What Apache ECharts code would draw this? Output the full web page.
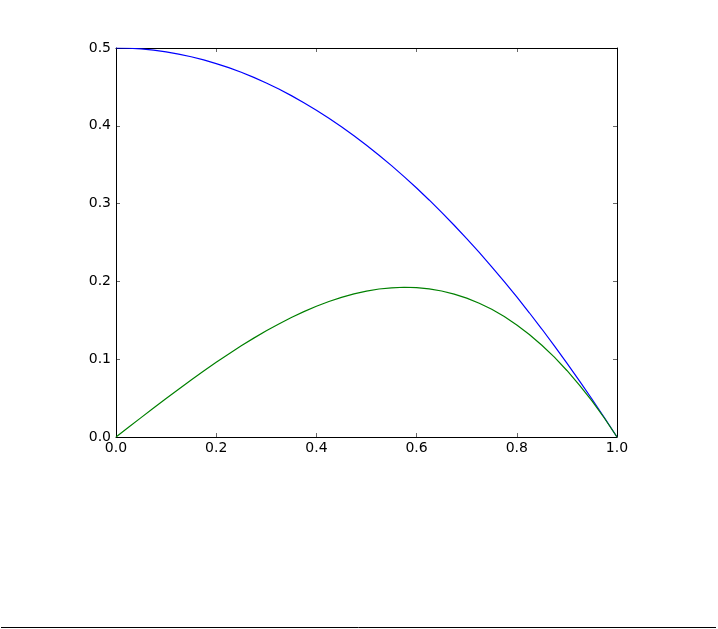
<!DOCTYPE html>
<html>
<head>
<meta charset="utf-8">
<script src="https://cdn.jsdelivr.net/npm/echarts@6/dist/echarts.min.js"></script>
<style>
html,body{margin:0;padding:0;background:#fff;}
#c{width:718px;height:629px;}
</style>
</head>
<body>
<div id="c"></div>
<script>
var xValues = [0, 0.025, 0.05, 0.075, 0.1, 0.125, 0.15, 0.175, 0.2, 0.225, 0.25, 0.275, 0.3, 0.325, 0.35, 0.375, 0.4, 0.425, 0.45, 0.475, 0.5, 0.525, 0.55, 0.575, 0.6, 0.625, 0.65, 0.675, 0.7, 0.725, 0.75, 0.775, 0.8, 0.825, 0.85, 0.875, 0.9, 0.925, 0.95, 0.975, 1.0];
var blueValues = [0.5, 0.4997, 0.4988, 0.4972, 0.495, 0.4922, 0.4888, 0.4847, 0.48, 0.4747, 0.4688, 0.4622, 0.455, 0.4472, 0.4388, 0.4297, 0.42, 0.4097, 0.3988, 0.3872, 0.375, 0.3622, 0.3488, 0.3347, 0.32, 0.3047, 0.2888, 0.2722, 0.255, 0.2372, 0.2188, 0.1997, 0.18, 0.1597, 0.1388, 0.1172, 0.095, 0.0722, 0.0488, 0.0247, 0];
var greenValues = [0, 0.0125, 0.0249, 0.0373, 0.0495, 0.0615, 0.0733, 0.0848, 0.096, 0.1068, 0.1172, 0.1271, 0.1365, 0.1453, 0.1536, 0.1611, 0.168, 0.1741, 0.1795, 0.1839, 0.1875, 0.1902, 0.1918, 0.1925, 0.192, 0.1904, 0.1877, 0.1837, 0.1785, 0.172, 0.1641, 0.1548, 0.144, 0.1318, 0.118, 0.1026, 0.0855, 0.0668, 0.0464, 0.0241, 0];
var xTickLabels = ['0.0', '0.2', '0.4', '0.6', '0.8', '1.0'];
var yTickLabels = ['0.0', '0.1', '0.2', '0.3', '0.4', '0.5'];

function pairs(xs, ys){ return xs.map(function(x,i){ return [x, ys[i]]; }); }

var chart = echarts.init(document.getElementById('c'), null, {renderer:'canvas'});
var font = 'DejaVu Sans';
var axisCommon = {
  axisLine:{show:true, onZero:false, lineStyle:{color:'#000', width:1}},
  axisTick:{show:true, inside:true, length:4, lineStyle:{color:'#000', width:0.6}},
  splitLine:{show:false}
};
chart.setOption({
  animation:false,
  backgroundColor:'#fff',
  grid:{left:116, top:48, width:501, height:389, containLabel:false},
  xAxis:[
    Object.assign({type:'value', min:0, max:1, interval:0.2, position:'bottom',
      axisLabel:{show:true, color:'#000', fontFamily:font, fontSize:14, margin:4,
        formatter:function(v){ return xTickLabels[Math.round(v/0.2)]; }}}, axisCommon),
    Object.assign({type:'value', min:0, max:1, interval:0.2, position:'top',
      axisLabel:{show:false}}, axisCommon)
  ],
  yAxis:[
    Object.assign({type:'value', min:0, max:0.5, interval:0.1, position:'left',
      axisLabel:{show:true, color:'#000', fontFamily:font, fontSize:14, margin:5,
        formatter:function(v){ return yTickLabels[Math.round(v/0.1)]; }}}, axisCommon),
    Object.assign({type:'value', min:0, max:0.5, interval:0.1, position:'right',
      axisLabel:{show:false}}, axisCommon)
  ],
  series:[
    {type:'line', data:pairs(xValues, blueValues), smooth:false, showSymbol:false,
      lineStyle:{color:'#0000ff', width:1.2}, itemStyle:{color:'#0000ff'}},
    {type:'line', data:pairs(xValues, greenValues), smooth:false, showSymbol:false,
      lineStyle:{color:'#008000', width:1.2}, itemStyle:{color:'#008000'}}
  ],
  graphic:[
    {type:'line', shape:{x1:1, y1:627.5, x2:716, y2:627.5}, style:{stroke:'#000', lineWidth:1}}
  ]
});
</script>
</body>
</html>
